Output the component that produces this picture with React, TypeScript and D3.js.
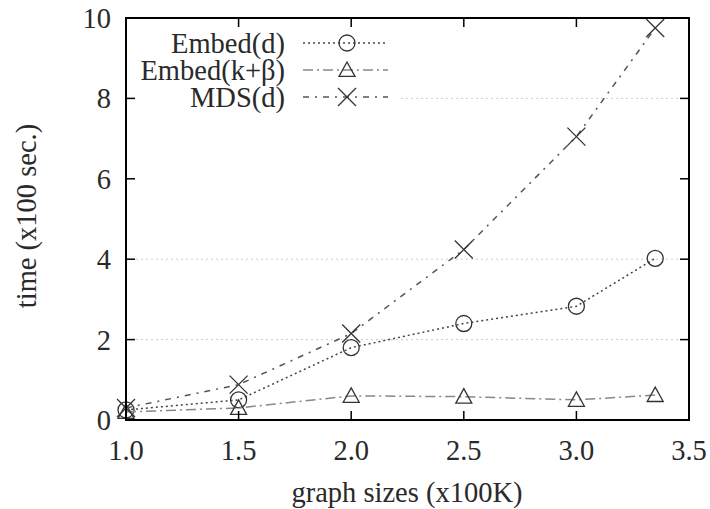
import React from "react";
import * as d3 from "d3";

const sizes = [1.0, 1.5, 2.0, 2.5, 3.0, 3.35];
const embedD = [0.25, 0.5, 1.8, 2.4, 2.83, 4.02];
const embedKB = [0.2, 0.3, 0.6, 0.58, 0.5, 0.62];
const mdsD = [0.3, 0.88, 2.15, 4.24, 7.05, 9.75];
const xTicks = [1.0, 1.5, 2.0, 2.5, 3.0, 3.5];
const yTicks = [0, 2, 4, 6, 8, 10];
const gridVals = [2, 4, 8];
const seriesNames = ["Embed(d)", "Embed(k+\u03b2)", "MDS(d)"];

const W = 710, H = 509;
const L = 126, R = 689, T = 18, B = 420;
const FONT = "'Liberation Serif', 'DejaVu Serif', serif";
const FS = 28.5;

export default function App() {
  const x = d3.scaleLinear().domain([1.0, 3.5]).range([L, R]);
  const y = d3.scaleLinear().domain([0, 10]).range([B, T]);
  const line = d3.line<[number, number]>().x(d => x(d[0])).y(d => y(d[1]));
  const series = [
    { name: seriesNames[0], vals: embedD, dash: "2,3", color: "#444", marker: "circle" },
    { name: seriesNames[1], vals: embedKB, dash: "10,4,2,4", color: "#888", marker: "tri" },
    { name: seriesNames[2], vals: mdsD, dash: "6,6,2,6", color: "#555", marker: "x" },
  ];
  const marker = (type: string, cx: number, cy: number, key: any) => {
    const st = { fill: "none", stroke: "#333", strokeWidth: 1.3 };
    if (type === "circle") return <circle key={key} cx={cx} cy={cy} r={8} {...st} />;
    if (type === "tri") {
      const s = 8;
      return <path key={key} d={`M${cx},${cy - s}L${cx + s},${cy + s * 0.8}L${cx - s},${cy + s * 0.8}Z`} {...st} />;
    }
    const s = 9;
    return <path key={key} d={`M${cx - s},${cy - s}L${cx + s},${cy + s}M${cx - s},${cy + s}L${cx + s},${cy - s}`} {...st} />;
  };
  return (
    <svg width={W} height={H} style={{ position: "absolute", left: 0, top: 0, background: "#fff" }} fontFamily={FONT}>
      <rect x={0} y={0} width={W} height={H} fill="#fff" />
      {gridVals.map(v => (
        <line key={v} x1={L} x2={R} y1={y(v)} y2={y(v)} stroke="#ccc" strokeWidth={1} strokeDasharray="2,3" />
      ))}
      <rect x={L + 2} y={26} width={270} height={84} fill="#fff" />
      {series.map((s, i) => (
        <g key={i}>
          <path d={line(sizes.map((v, j) => [v, s.vals[j]]) as [number, number][]) || ""} fill="none"
            stroke={s.color} strokeWidth={1.5} strokeDasharray={s.dash} />
          {sizes.map((v, j) => marker(s.marker, x(v), y(s.vals[j]), j))}
        </g>
      ))}
      {xTicks.map(t => (
        <g key={t}>
          <line x1={x(t)} x2={x(t)} y1={B} y2={B - 9} stroke="#000" strokeWidth={1.5} />
          <line x1={x(t)} x2={x(t)} y1={T} y2={T + 9} stroke="#000" strokeWidth={1.5} />
          <text x={x(t)} y={460} textAnchor="middle" fontSize={FS} fill="#2a2a2a">{t.toFixed(1)}</text>
        </g>
      ))}
      {yTicks.map(t => (
        <g key={t}>
          <line x1={L} x2={L + 9} y1={y(t)} y2={y(t)} stroke="#000" strokeWidth={1.5} />
          <line x1={R} x2={R - 9} y1={y(t)} y2={y(t)} stroke="#000" strokeWidth={1.5} />
          <text x={111} y={y(t) + 10} textAnchor="end" fontSize={FS} fill="#2a2a2a">{t}</text>
        </g>
      ))}
      <rect x={L} y={T} width={R - L} height={B - T} fill="none" stroke="#000" strokeWidth={2} />
      {series.map((s, i) => {
        const cy = 43 + i * 27;
        return (
          <g key={i}>
            <text x={285} y={cy + 10} textAnchor="end" fontSize={FS} fill="#2a2a2a">{s.name}</text>
            <line x1={303} x2={388} y1={cy} y2={cy} stroke={s.color} strokeWidth={1.5} strokeDasharray={s.dash} />
            {marker(s.marker, 347, cy, "m")}
          </g>
        );
      })}
      <text x={407} y={502} textAnchor="middle" fontSize={FS} fill="#2a2a2a">graph sizes (x100K)</text>
      <text transform={`translate(36,216) rotate(-90)`} textAnchor="middle" fontSize={FS} fill="#2a2a2a">time (x100 sec.)</text>
    </svg>
  );
}
